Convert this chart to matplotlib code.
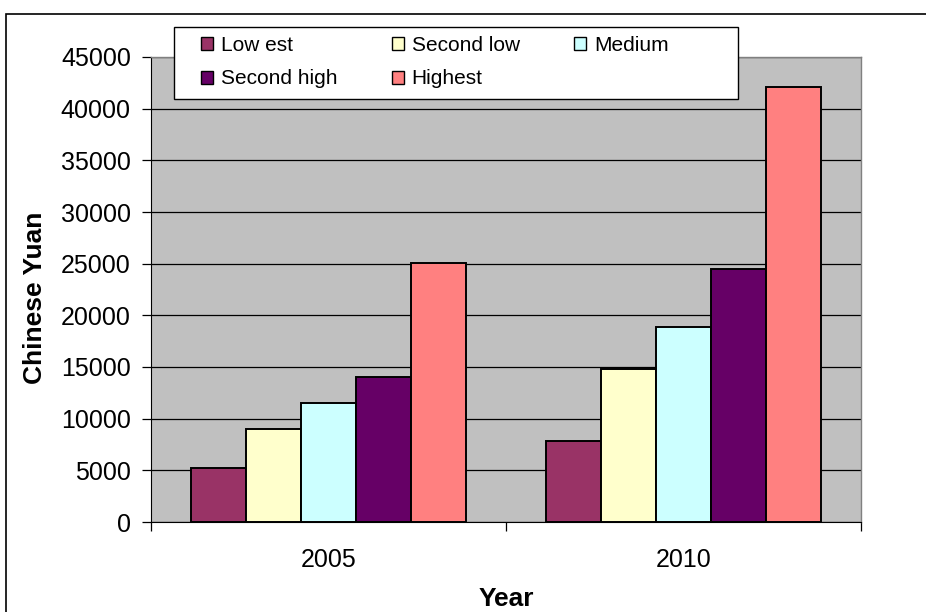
import numpy as np
import matplotlib
matplotlib.use("Agg")
import matplotlib.pyplot as plt
from matplotlib.patches import Rectangle

plt.rcParams['font.family'] = ['Liberation Sans', 'DejaVu Sans']

years = ["2005", "2010"]
groups = ["Low est", "Second low", "Medium", "Second high", "Highest"]
colors = ["#993366", "#FFFFCC", "#CCFFFF", "#660066", "#FF8080"]
values = {
    "Low est":     [5200, 7800],
    "Second low":  [9000, 14800],
    "Medium":      [11500, 18900],
    "Second high": [14000, 24500],
    "Highest":     [25100, 42100],
}
yticks = list(range(0, 45001, 5000))

W, H = 926, 612
fig = plt.figure(figsize=(W / 100, H / 100), dpi=100)
fig.patch.set_facecolor("white")
ax = fig.add_axes([151/W, 90/H, 710/W, 465/H])
ax.set_facecolor("#C0C0C0")

# outer chart frame
fig.patches.append(Rectangle((6/W, -0.05), 1.2, (H - 14)/H + 0.05,
                             transform=fig.transFigure, fill=False,
                             edgecolor="black", lw=1.2, zorder=0))

x = np.arange(len(years))
w = 0.155
bars = []
for i, g in enumerate(groups):
    b = ax.bar(x + (i - 2) * w, values[g], w, color=colors[i],
               edgecolor="black", lw=1.4, label=g, zorder=3)
    bars.append(b)

ax.set_xlim(-0.5, 1.5)
ax.set_ylim(0, 45000)
ax.set_yticks(yticks)
ax.set_yticklabels([str(v) for v in yticks], fontsize=18)
ax.yaxis.grid(True, color="black", lw=0.9, zorder=0)
ax.set_axisbelow(True)

# category boundary ticks, labels at centers
ax.set_xticks([-0.5, 0.5, 1.5])
ax.set_xticklabels([])
ax.set_xticks(x, minor=True)
ax.set_xticklabels(years, minor=True, fontsize=18)
ax.tick_params(axis='x', which='major', length=6.5, width=0.9, direction='out')
ax.tick_params(axis='x', which='minor', length=0, pad=19)
ax.tick_params(axis='y', length=6.5, width=0.9, direction='out', pad=8)

for s in ["top", "right"]:
    ax.spines[s].set_color("#808080")
    ax.spines[s].set_linewidth(1.0)
ax.spines["left"].set_color("black")
ax.spines["bottom"].set_color("black")

ax.set_ylabel("Chinese Yuan", fontsize=19, fontweight="bold")
ax.yaxis.set_label_coords(-0.146, 0.483)
ax.set_xlabel("Year", fontsize=19, fontweight="bold")
ax.xaxis.set_label_coords(0.5, -0.139)

# legend box, entries filled row by row
fig.patches.append(Rectangle((174/W, 1 - 99/H), (738 - 174)/W, 72/H,
                             transform=fig.transFigure, facecolor="white",
                             edgecolor="black", lw=1.0, zorder=5))
order = [0, 3, 1, 4, 2]
h = [bars[i] for i in order]
l = [groups[i] for i in order]
lg = fig.legend(h, l, ncol=3, loc="upper left",
                bbox_to_anchor=(201/W, 1 - 36/H), fontsize=15,
                frameon=False, handlelength=0.58, handleheight=0.58,
                handletextpad=0.38, columnspacing=2.6, borderpad=0,
                labelspacing=0.69, borderaxespad=0)
lg.set_zorder(6)
for p in lg.get_patches():
    p.set_linewidth(1.0)

fig.savefig("out.png", dpi=100, facecolor="white")
